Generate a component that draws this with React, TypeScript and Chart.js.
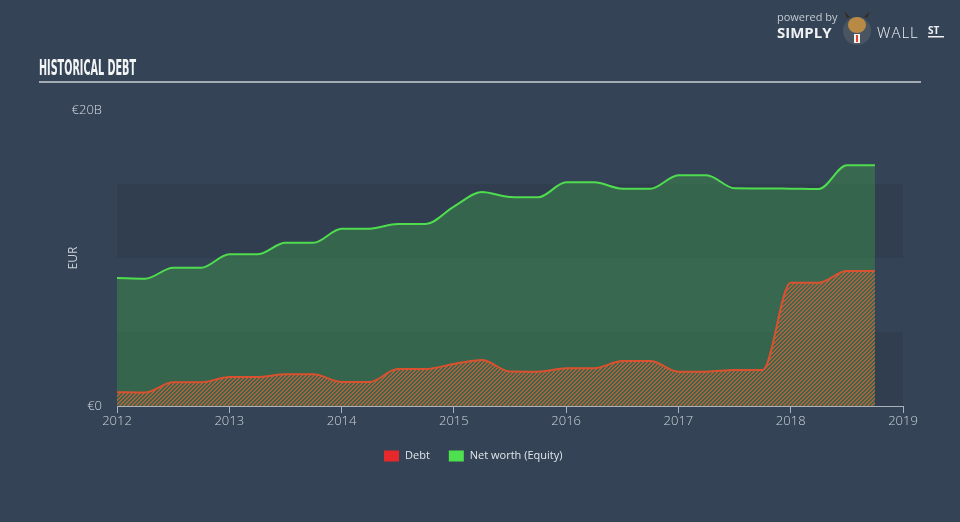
import React, { useEffect, useRef } from "react";
import { Chart, registerables } from "chart.js";

Chart.register(...registerables);

const quarters = [
  2012.0, 2012.25, 2012.5, 2012.75,
  2013.0, 2013.25, 2013.5, 2013.75,
  2014.0, 2014.25, 2014.5, 2014.75,
  2015.0, 2015.25, 2015.5, 2015.75,
  2016.0, 2016.25, 2016.5, 2016.75,
  2017.0, 2017.25, 2017.5, 2017.75,
  2018.0, 2018.25, 2018.5, 2018.75,
];

const netWorth = [
  8.65, 8.6, 9.34, 9.34,
  10.25, 10.25, 11.03, 11.03,
  11.98, 11.98, 12.3, 12.3,
  13.47, 14.46, 14.12, 14.1,
  15.11, 15.11, 14.68, 14.68,
  15.59, 15.59, 14.71, 14.7,
  14.68, 14.66, 16.26, 16.26,
];

const debt = [
  0.93, 0.91, 1.6, 1.6,
  1.96, 1.96, 2.14, 2.14,
  1.62, 1.62, 2.5, 2.5,
  2.84, 3.11, 2.33, 2.32,
  2.55, 2.55, 3.04, 3.04,
  2.32, 2.32, 2.43, 2.43,
  8.33, 8.33, 9.12, 9.12,
];

const yearTicks = [2012, 2013, 2014, 2015, 2016, 2017, 2018, 2019];
const yTickLabels: Record<number, string> = { 0: "€0", 20: "€20B" };
const seriesNames = ["Debt", "Net worth (Equity)"];
const legendColors = ["#e8292b", "#4fe04f"];

const BG = "#344456";
const BAND = "#303e4f";

function makeHatch(): CanvasPattern | string {
  const c = document.createElement("canvas");
  c.width = 4;
  c.height = 4;
  const g = c.getContext("2d");
  if (!g) return "rgba(200,95,60,0.5)";
  g.fillStyle = "rgba(196,96,58,0.85)";
  for (let px = 0; px < 4; px++) {
    for (let py = 0; py < 4; py++) {
      const k = (px + py) % 4;
      if (k === 0 || k === 1) g.fillRect(px, py, 1, 1);
    }
  }
  const ctx = document.createElement("canvas").getContext("2d");
  return (ctx && ctx.createPattern(c, "repeat")) || "rgba(200,95,60,0.5)";
}

const decoPlugin = {
  id: "deco",
  beforeDraw(chart: any) {
    const { ctx, chartArea } = chart;
    const y = chart.scales.y;
    ctx.save();
    ctx.fillStyle = BG;
    ctx.fillRect(0, 0, chart.width, chart.height);
    ctx.fillStyle = BAND;
    const bands = [
      [0, 5],
      [10, 15],
    ];
    for (const [a, b] of bands) {
      const top = y.getPixelForValue(b);
      const bot = y.getPixelForValue(a);
      ctx.fillRect(chartArea.left, top, chartArea.right - chartArea.left, bot - top);
    }
    ctx.restore();
  },
  afterDraw(chart: any) {
    const { ctx, chartArea } = chart;
    ctx.save();
    // Title
    ctx.font = 'bold 21px "DejaVu Sans Condensed", sans-serif';
    ctx.fillStyle = "#f2f4f6";
    ctx.textBaseline = "alphabetic";
    ctx.textAlign = "left";
    const title = "HISTORICAL DEBT";
    const w = ctx.measureText(title).width;
    ctx.save();
    ctx.translate(39, 75);
    ctx.scale(97 / w, 1);
    ctx.fillText(title, 0, 0);
    ctx.restore();
    // underline
    ctx.fillStyle = "#a3abb4";
    ctx.fillRect(39, 81, 882, 2);

    // EUR axis title
    ctx.save();
    ctx.translate(74, (chartArea.top + chartArea.bottom) / 2);
    ctx.rotate(-Math.PI / 2);
    ctx.font = '12px "Open Sans", sans-serif';
    ctx.fillStyle = "#c9cfd6";
    ctx.textAlign = "center";
    ctx.textBaseline = "middle";
    ctx.fillText("EUR", 0, 0);
    ctx.restore();

    // Legend
    ctx.font = '11px "Open Sans", sans-serif';
    ctx.textBaseline = "middle";
    ctx.textAlign = "left";
    let lx = 384;
    const ly = 456;
    seriesNames.forEach((name, i) => {
      ctx.fillStyle = legendColors[i];
      ctx.fillRect(lx, ly - 5.5, 15, 11);
      ctx.fillStyle = "#e2e6ea";
      ctx.fillText(name, lx + 21, ly);
      lx += 21 + ctx.measureText(name).width + 19;
    });

    // Logo
    ctx.fillStyle = "#c3c9cf";
    ctx.font = '11px "Open Sans", sans-serif';
    ctx.textBaseline = "alphabetic";
    ctx.fillText("powered by", 777, 21);
    ctx.fillStyle = "#eef0f2";
    ctx.font = 'bold 15px "Open Sans", sans-serif';
    ctx.fillText("SIMPLY", 777, 38);
    ctx.font = '300 15px "Open Sans", sans-serif';
    (ctx as any).letterSpacing = "1px";
    ctx.fillText("WALL", 877, 38);
    (ctx as any).letterSpacing = "0px";
    ctx.font = 'bold 10px "Open Sans", sans-serif';
    ctx.fillText("ST", 928, 34);
    ctx.fillRect(928, 36, 16, 1.5);
    // bull icon
    ctx.fillStyle = "#4a5562";
    ctx.beginPath();
    ctx.arc(857, 31, 14, 0, Math.PI * 2);
    ctx.fill();
    ctx.fillStyle = "#b98a45";
    ctx.beginPath();
    ctx.ellipse(857, 25, 9, 8, 0, 0, Math.PI * 2);
    ctx.fill();
    ctx.fillStyle = "#3a2a1e";
    ctx.beginPath();
    ctx.moveTo(847, 18);
    ctx.lineTo(844, 11);
    ctx.lineTo(850, 17);
    ctx.moveTo(867, 18);
    ctx.lineTo(870, 11);
    ctx.lineTo(864, 17);
    ctx.fill();
    ctx.fillStyle = "#f2f2f2";
    ctx.fillRect(854, 34, 6, 9);
    ctx.fillStyle = "#e0452b";
    ctx.fillRect(856, 35, 2, 7);
    ctx.restore();
  },
};

export default function App() {
  const ref = useRef<HTMLCanvasElement | null>(null);

  useEffect(() => {
    document.body.style.margin = "0";
    document.body.style.background = BG;
    const canvas = ref.current;
    if (!canvas) return;
    const hatch = makeHatch();
    const axisColor = "#aab2bc";
    const chart = new Chart(canvas, {
      type: "line",
      data: {
        datasets: [
          {
            label: seriesNames[0],
            data: quarters.map((q, i) => ({ x: q, y: debt[i] })),
            borderColor: "#d9512e",
            backgroundColor: hatch as any,
            borderWidth: 2,
            pointRadius: 0,
            fill: "origin",
            cubicInterpolationMode: "monotone",
          },
          {
            label: seriesNames[1],
            data: quarters.map((q, i) => ({ x: q, y: netWorth[i] })),
            borderColor: "#4fdc4f",
            backgroundColor: "rgba(62,165,72,0.38)",
            borderWidth: 2,
            pointRadius: 0,
            fill: "origin",
            cubicInterpolationMode: "monotone",
          },
        ],
      },
      options: {
        responsive: false,
        animation: false,
        devicePixelRatio: 1,
        layout: { padding: { left: 0, right: 57, top: 110, bottom: 0 } },
        plugins: {
          legend: { display: false },
          tooltip: { enabled: false },
        },
        scales: {
          x: {
            type: "linear",
            min: 2012,
            max: 2019,
            afterFit: (s: any) => {
              s.height = 116;
            },
            afterBuildTicks: (s: any) => {
              s.ticks = yearTicks.map((v) => ({ value: v }));
            },
            ticks: {
              callback: (v: any) => String(v),
              color: "#cdd3d9",
              font: { family: '"Open Sans", sans-serif', size: 13, weight: "300" },
              padding: 0,
              maxRotation: 0,
              autoSkip: false,
            },
            grid: {
              drawOnChartArea: false,
              drawTicks: true,
              tickLength: 7,
              color: axisColor,
            },
            border: { display: true, color: axisColor, width: 1 },
          },
          y: {
            min: 0,
            max: 20,
            afterFit: (s: any) => {
              s.width = 117;
            },
            ticks: {
              stepSize: 5,
              callback: (v: any) => yTickLabels[v as number] ?? "",
              color: "#d5dae0",
              font: { family: '"Open Sans", sans-serif', size: 13, weight: "300" },
              padding: 7,
            },
            grid: { display: false },
            border: { display: false },
          },
        },
      },
      plugins: [decoPlugin],
    } as any);
    return () => chart.destroy();
  }, []);

  return (
    <div style={{ width: 960, height: 522, background: BG, position: "relative" }}>
      <canvas ref={ref} width={960} height={522} style={{ display: "block" }} />
    </div>
  );
}
